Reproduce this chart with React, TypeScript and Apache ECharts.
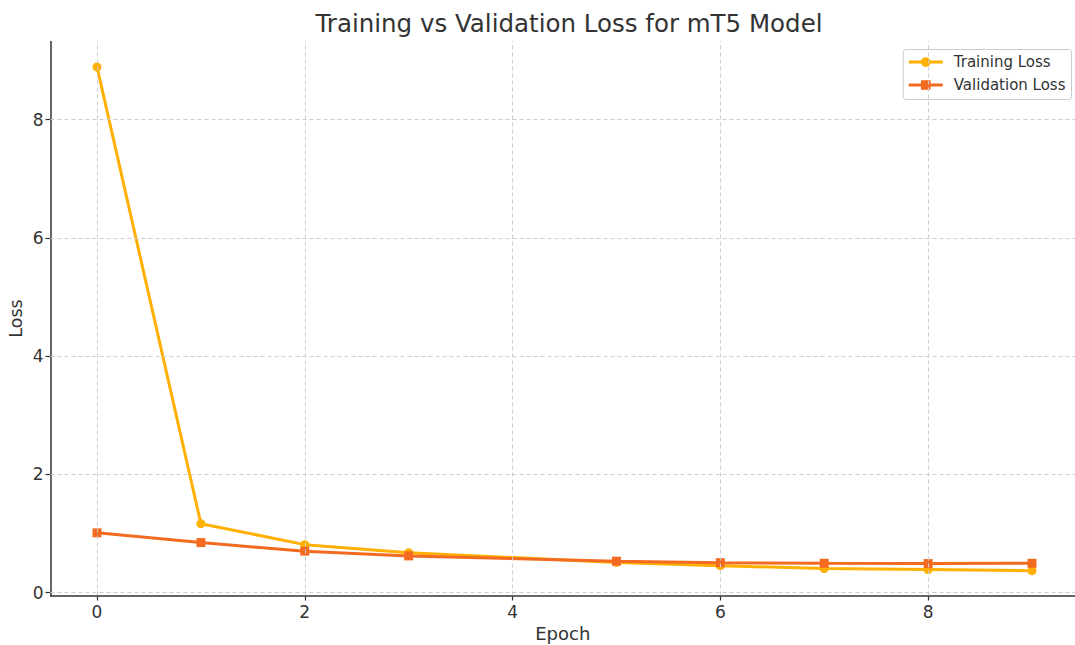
import React, { useEffect, useRef } from "react";
import * as echarts from "echarts";

const epochs = [0, 1, 2, 3, 5, 6, 7, 8, 9];
const trainingLoss = [8.89, 1.165, 0.81, 0.675, 0.51, 0.455, 0.405, 0.39, 0.37];
const validationLoss = [1.01, 0.845, 0.7, 0.62, 0.53, 0.505, 0.495, 0.49, 0.495];
const xTicks = [0, 2, 4, 6, 8];
const yTicks = [0, 2, 4, 6, 8];

const FONT = "DejaVu Sans";

export default function App() {
  const ref = useRef<HTMLDivElement>(null);
  useEffect(() => {
    if (!ref.current) return;
    const chart = echarts.init(ref.current, null, { renderer: "svg" });
    const gridLine = { color: "#cccccc", type: [4, 3] as any, width: 1 };
    chart.setOption({
      animation: false,
      backgroundColor: "#ffffff",
      textStyle: { fontFamily: FONT },
      title: {
        text: "Training vs Validation Loss for mT5 Model",
        left: 564,
        textAlign: "center",
        top: 6,
        textStyle: { fontFamily: FONT, fontSize: 24.5, fontWeight: "normal", color: "#333333" },
      },
      legend: {
        orient: "vertical",
        right: 3.5,
        top: 49.5,
        padding: [5, 6, 7, 4],
        backgroundColor: "#ffffff",
        borderColor: "#cccccc",
        borderWidth: 1,
        borderRadius: 3,
        itemWidth: 34,
        itemHeight: 12,
        itemGap: 8,
        lineStyle: { width: 3 },
        textStyle: { fontFamily: FONT, fontSize: 15, color: "#333333", padding: [0, 0, 0, 6] },
        data: ["Training Loss", "Validation Loss"],
      },
      grid: { left: 50.5, right: 0, top: 41.5, bottom: 49.5, outerBoundsMode: "none", containLabel: false },
      xAxis: {
        type: "value",
        min: -0.4476,
        max: 9.414,
        name: "Epoch",
        nameLocation: "middle",
        nameGap: 29,
        nameMoveOverlap: false,
        nameTextStyle: { fontFamily: FONT, fontSize: 18, color: "#333333" },
        axisLine: { show: true, onZero: false, lineStyle: { color: "#333333", width: 1.5 } },
        axisTick: { show: true, length: 5, customValues: xTicks, lineStyle: { color: "#333333", width: 1.2 } },
        axisLabel: { customValues: xTicks, fontFamily: FONT, fontSize: 17, color: "#333333", margin: 8 },
        splitLine: { show: false },
      },
      yAxis: {
        type: "value",
        min: -0.05,
        max: 9.32,
        name: "Loss",
        nameLocation: "middle",
        nameGap: 26,
        nameRotate: 90,
        nameMoveOverlap: false,
        nameTextStyle: { fontFamily: FONT, fontSize: 17.5, color: "#333333" },
        axisLine: { show: true, onZero: false, lineStyle: { color: "#333333", width: 1.5 } },
        axisTick: { show: true, length: 5, customValues: yTicks, lineStyle: { color: "#333333", width: 1.2 } },
        axisLabel: { customValues: yTicks, fontFamily: FONT, fontSize: 17, color: "#333333", margin: 7 },
        splitLine: { show: false },
      },
      series: [
        {
          name: "grid",
          type: "line",
          data: [],
          silent: true,
          markLine: {
            silent: true,
            symbol: "none",
            label: { show: false },
            lineStyle: gridLine,
            emphasis: { disabled: true },
            data: [
              ...xTicks.map((v) => ({ xAxis: v })),
              ...yTicks.map((v) => ({ yAxis: v })),
            ],
          },
          z: 0,
        },
        {
          name: "Training Loss",
          type: "line",
          data: epochs.map((e, i) => [e, trainingLoss[i]]),
          symbol: "circle",
          symbolSize: 9,
          itemStyle: { color: "#FFB000" },
          lineStyle: { color: "#FFB000", width: 3 },
          z: 3,
        },
        {
          name: "Validation Loss",
          type: "line",
          data: epochs.map((e, i) => [e, validationLoss[i]]),
          symbol: "rect",
          symbolSize: 9,
          itemStyle: { color: "#F26B21" },
          lineStyle: { color: "#F26B21", width: 3 },
          z: 4,
        },
      ],
    });
    return () => chart.dispose();
  }, []);
  return (
    <div
      ref={ref}
      style={{ position: "fixed", left: 0, top: 0, width: 1075, height: 645 }}
    />
  );
}
